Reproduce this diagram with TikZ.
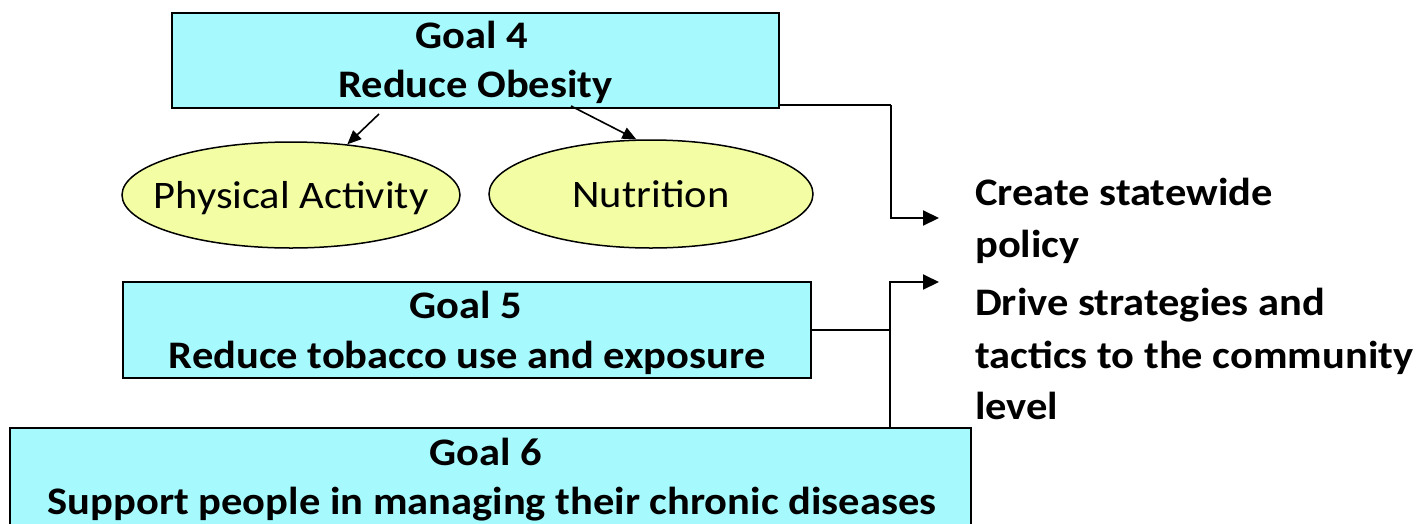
\documentclass[tikz,border=0pt]{standalone}
\usepackage{fontspec}
\setmainfont{Carlito}[FakeStretch=1.09]
\usetikzlibrary{arrows.meta,shapes.geometric}
\definecolor{goalcyan}{HTML}{A6F9FC}
\definecolor{ovalyellow}{HTML}{F3FEA4}
\newcommand{\ovaltext}[1]{\raisebox{-13pt}[0pt][0pt]{\makebox[0pt]{#1}}}
\tikzset{
  goalbox/.style={draw=black, line width=2pt, fill=goalcyan, inner sep=0pt},
  goaltext/.style={anchor=base, inner sep=0pt, font=\fontsize{39}{48}\selectfont\bfseries},
  oval/.style={ellipse, draw=black, line width=1.5pt, fill=ovalyellow, inner sep=0pt,
    font=\fontsize{39}{42}\selectfont},
  conn/.style={draw=black, line width=2pt},
  arr/.style={conn, -{Triangle[length=16pt,width=15pt]}},
  sarr/.style={draw=black, line width=1.6pt, -{Triangle[length=14pt,width=12pt]}},
  rtext/.style={anchor=base west, inner sep=0pt, font=\fontsize{39}{52}\selectfont\bfseries}
}
\begin{document}
\begin{tikzpicture}[x=1pt,y=-1pt]
\useasboundingbox (0,0) rectangle (1419,523);
\clip (0,0) rectangle (1419,523);
% goal boxes
\node[goalbox, minimum width=607pt, minimum height=95pt] (g4) at (475.5,60.5) {};
\node[goaltext] (g4a) at (472,48) {Goal 4};
\node[goaltext] (g4b) at (475.5,97) {Reduce Obesity};
\node[goalbox, minimum width=688pt, minimum height=96pt] (g5) at (467,330) {};
\node[goaltext] (g5a) at (466,318) {Goal 5};
\node[goaltext] (g5b) at (467,368) {Reduce tobacco use and exposure};
\node[goalbox, minimum width=961pt, minimum height=120pt] (g6) at (490.5,488) {};
\node[goaltext] (g6a) at (486,465) {Goal 6};
\node[goaltext] (g6b) at (492,514) {Support people in managing their chronic diseases};
% ovals
\node[oval, minimum width=338pt, minimum height=106pt] (pa) at (291,195) {\ovaltext{Physical Activity}};
\node[oval, minimum width=324pt, minimum height=108pt] (nu) at (651,194) {\ovaltext{Nutrition}};
% right text
\node[rtext] (t1a) at (975,205) {Create statewide};
\node[rtext] (t1b) at (975,257) {policy};
\node[rtext] (t2a) at (975,315) {Drive strategies and};
\node[rtext] (t2b) at (975,368) {tactics to the community};
\node[rtext] (t2c) at (975,419) {level};
% arrows from goal 4 to ovals
\coordinate (s1) at (379,114);
\coordinate (s2) at (571,106);
\draw[sarr] (s1) -- (pa.42);
\draw[sarr] (s2) -- (nu.105);
% connector goal 4 -> policy
\coordinate (j1) at (891,105);
\coordinate (a1) at (939,218);
\draw[conn] (g4.east |- j1) -- (j1);
\draw[arr] (j1) |- (a1);
% connector goal 5 / goal 6 -> strategies
\coordinate (j2) at (890,330);
\coordinate (a2) at (939,282);
\draw[conn] (g5.east) -- (j2);
\draw[arr] (g6.north -| j2) |- (a2);
\end{tikzpicture}
\end{document}
